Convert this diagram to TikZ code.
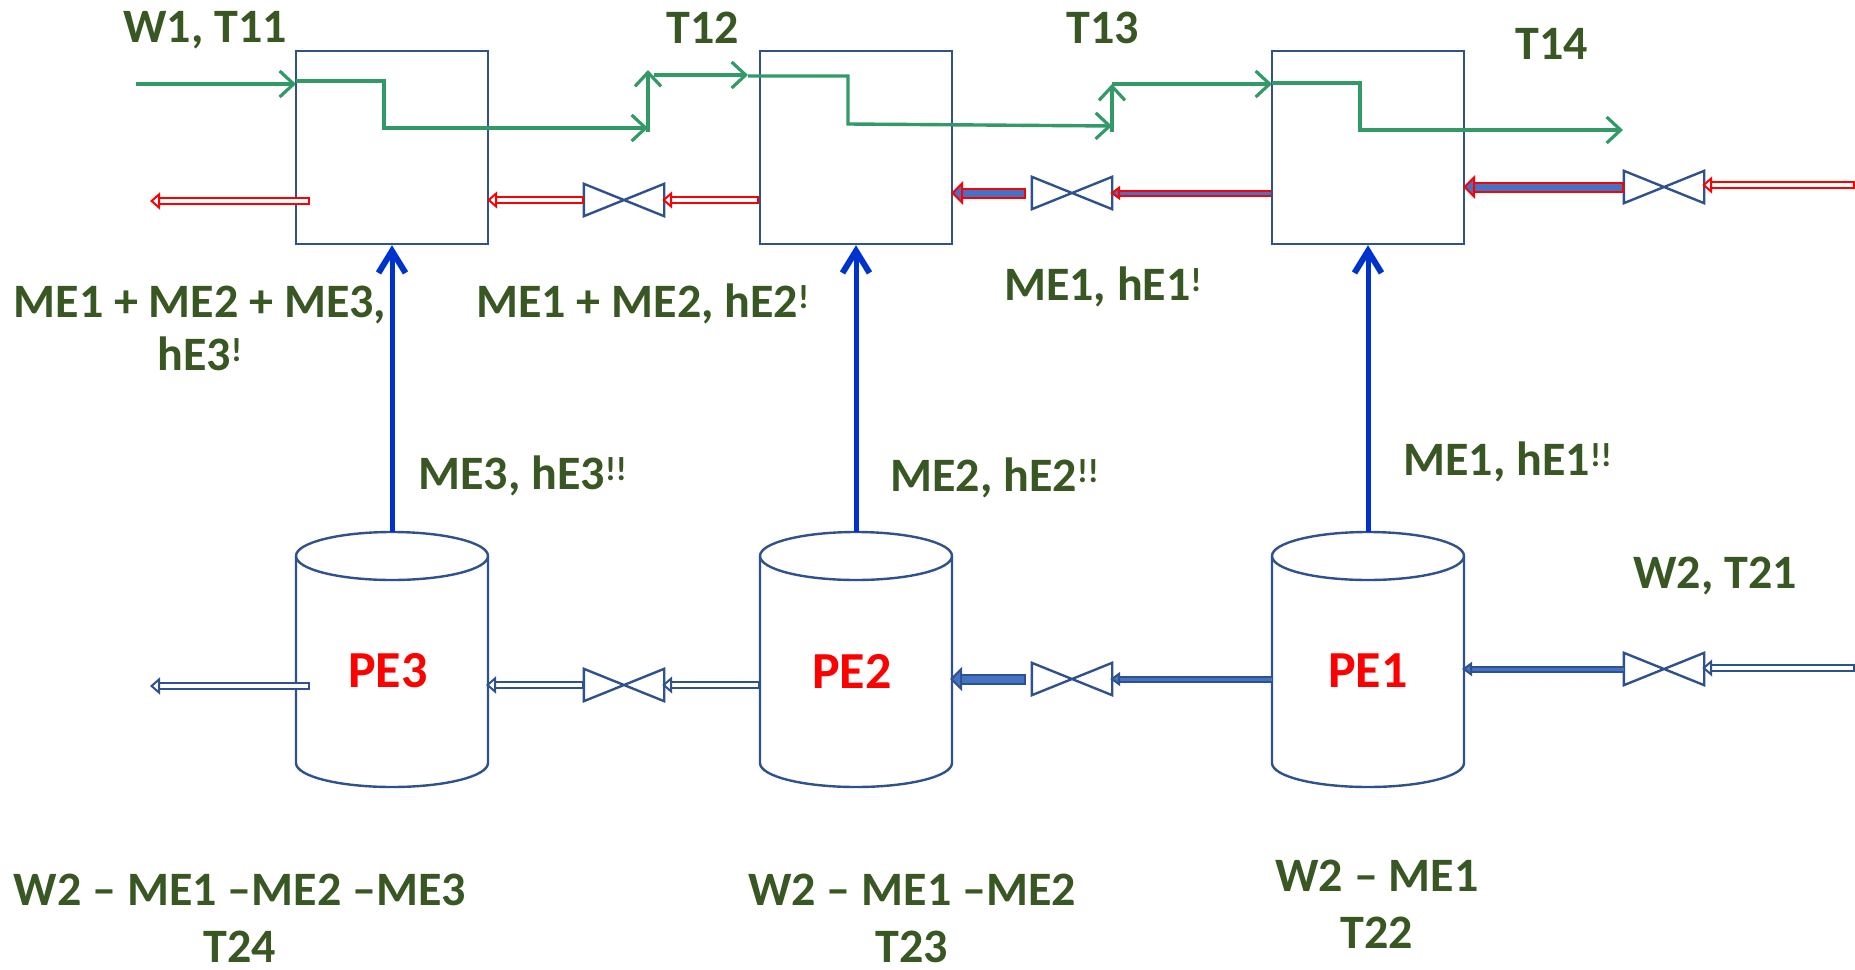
\documentclass[tikz,border=0pt]{standalone}
\usepackage{fontspec}
\setmainfont{Carlito}
\usepackage{tikz}
\usetikzlibrary{arrows.meta}

\definecolor{unitblue}{RGB}{47,82,143}
\definecolor{fillblue}{RGB}{68,114,196}
\definecolor{heatblue}{RGB}{0,50,204}
\definecolor{flowgreen}{RGB}{51,153,102}
\definecolor{labelgreen}{RGB}{56,87,35}

\begin{document}
\begin{tikzpicture}[x=1pt,y=-1pt,line join=miter]

    \tikzstyle{unit}=[draw=unitblue,line width=2.4pt,fill=none,minimum width=192pt,minimum height=193pt,inner sep=0pt]
    \tikzstyle{tank}=[minimum width=192pt,minimum height=255pt,inner sep=0pt,outer sep=0pt]
    \tikzstyle{valve}=[minimum width=80pt,minimum height=32pt,inner sep=0pt]
    \tikzstyle{txt}=[font=\fontsize{48}{57}\selectfont\bfseries,text=labelgreen,inner sep=0pt,align=center]
    \tikzstyle{pe}=[font=\fontsize{52}{56}\selectfont\bfseries,text=red,inner sep=0pt]
    \tikzstyle{heat}=[-{Straight Barb[length=22pt,width=27pt,line width=6pt]},draw=heatblue,line width=5pt]
    \tikzstyle{hot}=[-{Straight Barb[length=14pt,width=26pt,line width=3.2pt]},draw=flowgreen,line width=3.4pt]
    \tikzstyle{redpipe}=[{Bar[width=8pt,line width=2pt]}-{Triangle[open,fill=white,length=10pt,width=17pt,line width=2pt]},draw=red,line width=2pt,double=white,double distance=4pt,shorten >=-2pt]
    \tikzstyle{redfull}=[{Bar[width=11pt,line width=2pt]}-{Triangle[fill=fillblue,length=12pt,width=24pt,line width=2pt]},draw=red,line width=2pt,double=fillblue,double distance=7pt,shorten >=-2pt]
    \tikzstyle{redthin}=[-{Triangle[fill=fillblue,length=10pt,width=14pt,line width=2pt]},draw=red,line width=2pt,double=fillblue,double distance=3pt,shorten >=-2pt]
    \tikzstyle{bluepipe}=[{Bar[width=8pt,line width=2pt]}-{Triangle[open,fill=white,length=10pt,width=17pt,line width=2pt]},draw=unitblue,line width=2pt,double=white,double distance=4pt,shorten >=-2pt]
    \tikzstyle{bluefull}=[{Bar[width=11pt,line width=2pt]}-{Triangle[fill=fillblue,length=12pt,width=24pt,line width=2pt]},draw=unitblue,line width=2pt,double=fillblue,double distance=7pt,shorten >=-2pt]
    \tikzstyle{bluethin}=[-{Triangle[fill=fillblue,length=10pt,width=14pt,line width=2pt]},draw=unitblue,line width=2pt,double=fillblue,double distance=3pt,shorten >=-2pt]

    \useasboundingbox (0,0) rectangle (1855,969);

    % exchangers
    \node[unit] (ex3) at (392,147.5) {};
    \node[unit] (ex2) at (856,147.5) {};
    \node[unit] (ex1) at (1368,147.5) {};

    % tanks
    \node[tank] (pe3) at (392,659.5) {};
    \node[tank] (pe2) at (856,659.5) {};
    \node[tank] (pe1) at (1368,659.5) {};
    \foreach \t in {pe3,pe2,pe1} {
        \draw[draw=unitblue,line width=2.4pt] ([yshift=-24pt]\t.north) ellipse [x radius=96pt,y radius=24pt];
        \draw[draw=unitblue,line width=2.4pt] ([yshift=-24pt]\t.north west) -- ([yshift=24pt]\t.south west)
            arc [start angle=180,end angle=360,x radius=96pt,y radius=24pt] -- ([yshift=-24pt]\t.north east);
    }
    \node[pe] (pe3t) at (388,671) {PE3};
    \node[pe] (pe2t) at (852,671) {PE2};
    \node[pe] (pe1t) at (1368,671) {PE1};

    % valves
    \node[valve] (vr3) at (624,200) {};
    \node[valve] (vr2) at (1072,193) {};
    \node[valve] (vr1) at (1664,187) {};
    \node[valve] (vb3) at (624,685) {};
    \node[valve] (vb2) at (1072,679) {};
    \node[valve] (vb1) at (1664,669) {};
    \foreach \v in {vr3,vr2,vr1,vb3,vb2,vb1}
        \draw[draw=unitblue,line width=2.4pt] (\v.north west) -- (\v.south east) -- (\v.north east) -- (\v.south west) -- cycle;

    % free ends
    \coordinate (g1) at (136,84);
    \coordinate (g2a) at (648,128);
    \coordinate (g2c) at (648,132);
    \coordinate (g2b) at (648,70);
    \coordinate (g2d) at (654,75);
    \coordinate (g3a) at (1112,126);
    \coordinate (g3c) at (1112,132);
    \coordinate (g3b) at (1112,84);
    \coordinate (g4) at (1623,130);
    \coordinate (redout) at (152,201);
    \coordinate (redin3) at (310,201);
    \coordinate (bluout) at (152,686);
    \coordinate (bluin3) at (310,686);
    \coordinate (redin) at (1855,185);
    \coordinate (bluin) at (1855,668);

    % heating water
    \draw[hot] (g1) -- (296,84);
    \draw[hot] (296,81) -- (384,81) -- (384,128) -- (g2a);
    \draw[hot] (g2c) -- (g2b);
    \draw[hot] (g2d) -- (748,75);
    \draw[hot] (748,76) -- (848,76) -- (848,124) -- (g3a);
    \draw[hot] (g3c) -- (g3b);
    \draw[hot] (g3b) -- (1272,84);
    \draw[hot] (1272,83) -- (1360,83) -- (1360,130) -- (g4);

    % heat
    \draw[heat] (pe3.north) -- (ex3.south);
    \draw[heat] (pe2.north) -- (ex2.south);
    \draw[heat] (pe1.north) -- (ex1.south);

    % vapour side
    \draw[redpipe] (redin) -- (vr1.east |- redin);
    \draw[redfull] (vr1.west) -- (ex1.east |- vr1.west);
    \draw[redthin] (ex1.west |- vr2.east) -- (vr2.east);
    \draw[redfull,shorten <=6pt] (vr2.west) -- (ex2.east |- vr2.west);
    \draw[redpipe] (ex2.west |- vr3.east) -- (vr3.east);
    \draw[redpipe] (vr3.west) -- (ex3.east |- vr3.west);
    \draw[redpipe] (redin3) -- (redout);

    % liquid side
    \draw[bluepipe] (bluin) -- (vb1.east |- bluin);
    \draw[bluethin] (vb1.west) -- (pe1.east |- vb1.west);
    \draw[bluethin] (pe1.west |- vb2.east) -- (vb2.east);
    \draw[bluefull,shorten <=6pt] (vb2.west) -- (pe2.east |- vb2.west);
    \draw[bluepipe] (pe2.west |- vb3.east) -- (vb3.east);
    \draw[bluepipe] (vb3.west) -- (pe3.east |- vb3.west);
    \draw[bluepipe] (bluin3) -- (bluout);

    % labels
    \node[txt] (t11) at (205,30) {W1, T11};
    \node[txt] (t12) at (703,28) {T12};
    \node[txt] (t13) at (1103,28) {T13};
    \node[txt] (t14) at (1552,44) {T14};
    \node[txt] (t21) at (1715,576) {W2, T21};
    \node[txt] (he3a) at (200,328) {ME1 + ME2 + ME3,\\[-4pt]hE3\textsuperscript{!}};
    \node[txt] (he2a) at (643,304) {ME1 + ME2, hE2\textsuperscript{!}};
    \node[txt] (he1a) at (1103,287) {ME1, hE1\textsuperscript{!}};
    \node[txt] (he3b) at (523,476) {ME3, hE3\textsuperscript{!!}};
    \node[txt] (he2b) at (995,478) {ME2, hE2\textsuperscript{!!}};
    \node[txt] (he1b) at (1508,462) {ME1, hE1\textsuperscript{!!}};
    \node[txt] (t24) at (240,918) {W2 -- ME1 --ME2 --ME3\\T24};
    \node[txt] (t23) at (912,918) {W2 -- ME1 --ME2\\T23};
    \node[txt] (t22) at (1377,904) {W2 -- ME1\\T22};
\end{tikzpicture}
\end{document}
